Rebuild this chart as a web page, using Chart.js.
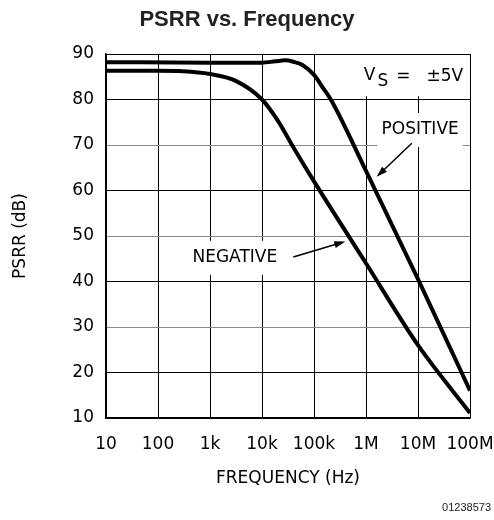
<!DOCTYPE html>
<html><head><meta charset="utf-8">
<script src="https://cdn.jsdelivr.net/npm/chart.js@4"></script>
<style>html,body{margin:0;padding:0;background:#fff}#wrap{width:494px;height:520px}</style>
</head><body>
<div id="wrap"><canvas id="c"></canvas></div>
<script>
// ---- data ----
const freqTicks = [10, 100, 1e3, 1e4, 1e5, 1e6, 1e7, 1e8];
const freqTickLabels = ['10', '100', '1k', '10k', '100k', '1M', '10M', '100M'];
const dbTicks = [10, 20, 30, 40, 50, 60, 70, 80, 90];

const positiveFreq = [10, 1e3, 1e4, 1.8e4, 2.8e4, 4e4, 6e4, 1e5, 1.5e5, 2.2e5, 1e6, 1e7, 1e8];
const positiveDb   = [88.2, 88.1, 88.1, 88.4, 88.6, 88.3, 87.6, 85.4, 82.5, 79.6, 64.3, 40.5, 16];

const negativeFreq = [10, 100, 300, 1e3, 3e3, 1e4, 2e4, 4e4, 1e5, 1e6, 1e7, 1e8];
const negativeDb   = [86.3, 86.3, 86.2, 85.6, 84.2, 80, 75.4, 69.5, 62, 44, 26, 11.1];

const AXIS_FONT = '"DejaVu Sans", sans-serif';

function pts(xs, ys) { return xs.map((x, i) => ({ x: x, y: ys[i] })); }

// annotations (text labels and arrows), placed in data coordinates
const notes = {
  id: 'notes',
  afterDraw(chart) {
    const ctx = chart.ctx, xs = chart.scales.x, ys = chart.scales.y;
    const X = v => xs.getPixelForValue(v), Y = v => ys.getPixelForValue(v);
    ctx.save();
    ctx.font = '17px ' + AXIS_FONT;
    ctx.textBaseline = 'middle';
    function label(text, fx, db) {
      const w = ctx.measureText(text).width;
      const cx = X(fx), cy = Y(db);
      ctx.fillStyle = '#fff';
      ctx.fillRect(cx - w / 2 - 4, cy - 17, w + 8, 34);
      ctx.fillStyle = '#000';
      ctx.textAlign = 'center';
      ctx.fillText(text, cx, cy);
    }
    function arrow(f1, d1, f2, d2) {
      const x1 = X(f1), y1 = Y(d1), x2 = X(f2), y2 = Y(d2);
      const a = Math.atan2(y2 - y1, x2 - x1), L = 11, W = 3.5;
      ctx.strokeStyle = '#000'; ctx.lineWidth = 1.5;
      ctx.beginPath(); ctx.moveTo(x1, y1);
      ctx.lineTo(x2 - L * Math.cos(a) * 0.8, y2 - L * Math.sin(a) * 0.8); ctx.stroke();
      ctx.fillStyle = '#000';
      ctx.beginPath(); ctx.moveTo(x2, y2);
      ctx.lineTo(x2 - L * Math.cos(a) + W * Math.sin(a), y2 - L * Math.sin(a) - W * Math.cos(a));
      ctx.lineTo(x2 - L * Math.cos(a) - W * Math.sin(a), y2 - L * Math.sin(a) + W * Math.cos(a));
      ctx.closePath(); ctx.fill();
    }
    // V_S = ±5V
    {
      const cx = X(7.6e6), cy = Y(84.9);
      ctx.fillStyle = '#fff';
      ctx.fillRect(cx - 52, chart.chartArea.top + 1, 104, cy + 18 - chart.chartArea.top);
      ctx.fillStyle = '#000';
      ctx.textAlign = 'left';
      let x = cx - 48;
      ctx.fillText('V', x, cy - 2);
      x += ctx.measureText('V').width + 2;
      ctx.fillText('S', x, cy + 4);
      x += ctx.measureText('S').width + 8;
      ctx.fillText('=', x, cy - 1);
      x += ctx.measureText('=').width + 16;
      ctx.fillText('\u00B15V', x, cy - 1);
    }
    label('POSITIVE', 1.1e7, 73.3);
    arrow(7.6e6, 70.4, 1.6e6, 63.0);
    label('NEGATIVE', 3.0e3, 45.2);
    arrow(4.0e4, 45.4, 4.0e5, 48.8);
    // figure number
    ctx.font = '11px "Liberation Sans", Arial, sans-serif';
    ctx.textAlign = 'right';
    ctx.textBaseline = 'alphabetic';
    ctx.fillStyle = '#222';
    ctx.fillText('01238573', 491, 511);
    ctx.restore();
  }
};

new Chart(document.getElementById('c'), {
  type: 'line',
  data: {
    datasets: [
      { label: 'POSITIVE', data: pts(positiveFreq, positiveDb), borderColor: '#000', borderWidth: 4, pointRadius: 0, cubicInterpolationMode: 'monotone', fill: false },
      { label: 'NEGATIVE', data: pts(negativeFreq, negativeDb), borderColor: '#000', borderWidth: 4, pointRadius: 0, cubicInterpolationMode: 'monotone', fill: false }
    ]
  },
  options: {
    responsive: true,
    maintainAspectRatio: false,
    animation: false,
    layout: { padding: 0 },
    plugins: {
      legend: { display: false },
      tooltip: { enabled: false },
      title: {
        display: true,
        text: 'PSRR vs. Frequency',
        color: '#222',
        font: { family: '"Liberation Sans", Arial, sans-serif', size: 22, weight: 'bold', lineHeight: 1.2 },
        padding: { top: 7, bottom: 20.6 }
      }
    },
    scales: {
      x: {
        type: 'logarithmic',
        min: 10, max: 1e8,
        afterBuildTicks(s) { s.ticks = freqTicks.map(v => ({ value: v })); },
        afterFit(s) { s.height = 102; s.paddingRight = 24; s.paddingLeft = 0; },
        ticks: {
          color: '#000', font: { family: AXIS_FONT, size: 17 }, padding: 16, maxRotation: 0, autoSkip: false,
          callback(v) { const i = freqTicks.indexOf(v); return i >= 0 ? freqTickLabels[i] : ''; }
        },
        grid: { color: '#000', lineWidth: 1, drawTicks: false },
        border: { color: '#000', width: 1.5 },
        title: { display: true, text: 'FREQUENCY (Hz)', color: '#000', font: { family: AXIS_FONT, size: 17 }, padding: { top: 6, bottom: 31 } }
      },
      y: {
        type: 'linear',
        min: 10, max: 90,
        afterBuildTicks(s) { s.ticks = dbTicks.map(v => ({ value: v })); },
        afterFit(s) { s.width = 106; },
        ticks: { color: '#000', font: { family: AXIS_FONT, size: 17 }, padding: 12 },
        grid: {
          drawTicks: false, lineWidth: 1,
          color(c) { const v = c.tick && c.tick.value; return (v === 70 || v === 50 || v === 30) ? '#8a8a8a' : '#000'; }
        },
        border: { color: '#000', width: 1.5 },
        title: { display: true, text: 'PSRR (dB)', color: '#000', font: { family: AXIS_FONT, size: 17 }, padding: { top: 10, bottom: 0 } }
      }
    }
  },
  plugins: [notes]
});
</script>
</body></html>
